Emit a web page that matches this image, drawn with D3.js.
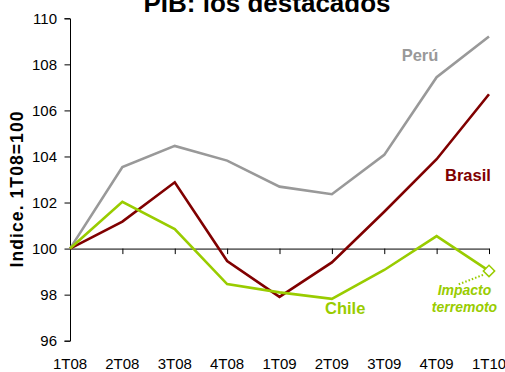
<!DOCTYPE html>
<html><head><meta charset="utf-8">
<script src="https://cdn.jsdelivr.net/npm/d3@7"></script>
<style>
body{margin:0;background:#fff;}
svg{display:block;font-family:"Liberation Sans",Arial,sans-serif;}
</style></head>
<body><svg id="c" width="505" height="372"></svg>
<script>
const categories = ["1T08","2T08","3T08","4T08","1T09","2T09","3T09","4T09","1T10"];
const peru   = [100, 103.54, 104.46, 103.82, 102.69, 102.36, 104.07, 107.44, 109.21];
const brasil = [100, 101.17, 102.88, 99.46, 97.90, 99.40, 101.60, 103.88, 106.70];
const chile  = [100, 102.03, 100.85, 98.46, 98.10, 97.82, 99.07, 100.54, 99.03];
const yTicks = [96, 98, 100, 102, 104, 106, 108, 110];
const title = "PIB: los destacados";
const yTitle = "Indice. 1T08=100";

const svg = d3.select("#c");
const x = d3.scalePoint().domain(categories).range([70, 489]);
const y = d3.scaleLinear().domain([96, 110]).range([340.7, 18.3]);

// Title
svg.append("text").attr("x", 267).attr("y", 12).attr("text-anchor", "middle")
  .attr("font-size", 26).attr("font-weight", "bold").text(title);

// Y axis
const ya = svg.append("g").attr("transform", `translate(${x(categories[0])},0)`)
  .call(d3.axisLeft(y).tickValues(yTicks).tickSize(5.5).tickPadding(7.5).tickFormat(d3.format("d")));
ya.select(".domain").attr("stroke", "#000");
ya.selectAll("text").attr("font-size", 15).attr("fill", "#000")
  .attr("font-family", "'Liberation Sans',Arial,sans-serif");

// X axis at y=100
const xa = svg.append("g").attr("transform", `translate(0,${y(100)})`)
  .call(d3.axisBottom(x).tickSize(5.5).tickSizeOuter(0).tickFormat(""));
xa.select(".domain").attr("stroke", "#000");

// X labels at bottom
svg.append("g").selectAll("text").data(categories).join("text")
  .attr("x", d => x(d)).attr("y", 369).attr("text-anchor", "middle")
  .attr("font-size", 15).text(d => d);

// Y title
svg.append("text").attr("transform", "translate(22.5,189.5) rotate(-90)")
  .attr("text-anchor", "middle").attr("font-size", 17.5).attr("font-weight", "bold")
  .attr("textLength", 156).attr("lengthAdjust", "spacing").text(yTitle);

const line = d3.line().x((d, i) => x(categories[i])).y(d => y(d));
const series = [
  {v: peru, c: "#999999"},
  {v: brasil, c: "#800000"},
  {v: chile, c: "#99CC00"}
];
svg.append("g").selectAll("path").data(series).join("path")
  .attr("d", d => line(d.v)).attr("fill", "none").attr("stroke", d => d.c)
  .attr("stroke-width", 2.6).attr("stroke-linejoin", "miter");

// Annotation: earthquake impact
const lx = x(categories[8]), ly = y(chile[8]);
svg.append("line").attr("x1", lx - 6).attr("y1", ly + 4).attr("x2", lx - 32).attr("y2", ly + 14)
  .attr("stroke", "#99CC00").attr("stroke-width", 2).attr("stroke-dasharray", "1.5,2");
svg.append("path").attr("d", d3.symbol(d3.symbolSquare, 64)())
  .attr("transform", `translate(${lx},${ly}) rotate(45)`)
  .attr("fill", "#fff").attr("stroke", "#99CC00").attr("stroke-width", 1.5);

// Series labels
const lab = (t, xx, yy, c, anchor, size, italic) => svg.append("text")
  .attr("x", xx).attr("y", yy).attr("text-anchor", anchor).attr("fill", c)
  .attr("font-size", size).attr("font-weight", "bold")
  .attr("font-style", italic ? "italic" : "normal").text(t);
lab("Perú", 420, 61, "#999999", "middle", 16.5);
lab("Brasil", 445, 181, "#800000", "start", 16.5);
lab("Chile", 325, 314, "#99CC00", "start", 16.5);
lab("Impacto", 464.5, 295, "#99CC00", "middle", 14, true);
lab("terremoto", 464.5, 311.5, "#99CC00", "middle", 14, true);
</script></body></html>
